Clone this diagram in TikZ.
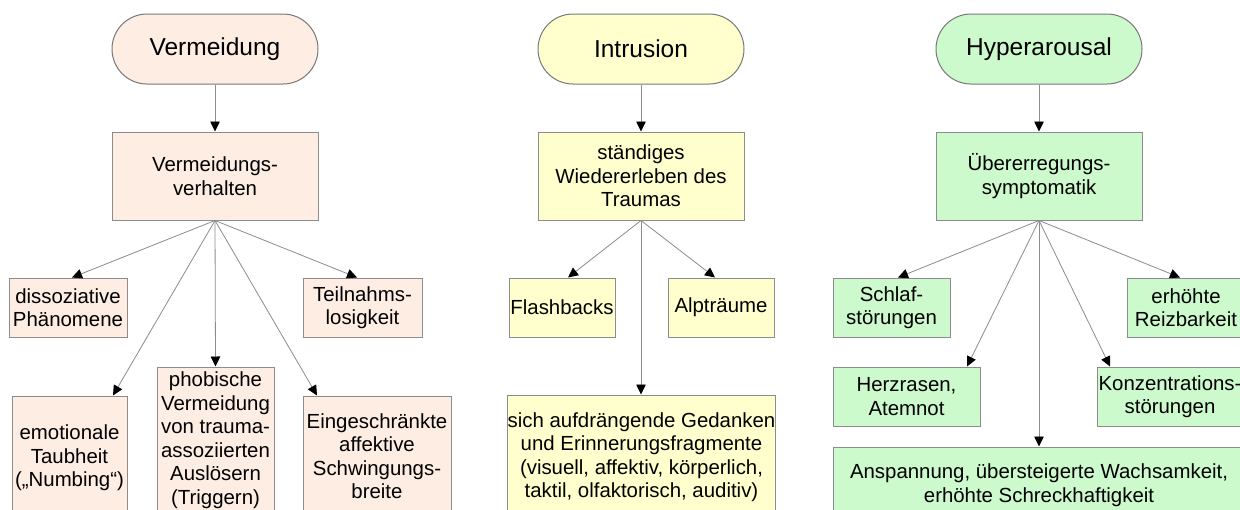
\documentclass[tikz,border=0pt]{standalone}
\usepackage{fontspec}
\setmainfont{Liberation Sans}
\usetikzlibrary{arrows.meta}
\definecolor{peach}{RGB}{253,237,226}
\definecolor{paleyellow}{RGB}{255,255,206}
\definecolor{palegreen}{RGB}{204,250,204}
\definecolor{edgegray}{RGB}{140,140,140}
\definecolor{ovalgray}{RGB}{120,120,120}

\begin{document}
\begin{tikzpicture}[x=1pt,y=-1pt,
  base/.style={draw=edgegray, line width=1pt, align=center, inner sep=0pt,
    font=\fontsize{20.4}{23.5}\selectfont},
  oval/.style={base, draw=ovalgray, rounded corners=35pt, minimum width=206pt,
    minimum height=70pt, font=\fontsize{24.5}{28}\selectfont},
  head/.style={base, minimum width=206pt, minimum height=88pt},
  leaf/.style={base, minimum height=59pt},
  link/.style={draw=edgegray, line width=0.8pt,
    -{Triangle[length=10pt,width=9.5pt,color=black,fill=black]}}
]
\useasboundingbox (0,0) rectangle (1240,509);
\fill[white] (0,0) rectangle (1240,509);

% ---- Vermeidung ----
\node[oval, fill=peach] (verm) at (215,49) {Vermeidung};
\node[head, fill=peach] (vmv) at (215,176) {Vermeidungs-\\verhalten};
\node[leaf, fill=peach, minimum width=118pt] (dis) at (68,307.5) {dissoziative\\Phänomene};
\node[leaf, fill=peach, minimum width=119pt] (teil) at (362.5,307.5) {Teilnahms-\\losigkeit};
\node[base, fill=peach, minimum width=115pt, minimum height=124pt] (emo) at (69.5,458)
  {emotionale\\Taubheit\\(„Numbing“)};
\node[base, fill=peach, minimum width=117pt, minimum height=146pt] (phob) at (215.5,440)
  {phobische\\Vermeidung\\von trauma-\\assoziierten\\Auslösern\\(Triggern)};
\node[base, fill=peach, minimum width=148pt, minimum height=120pt] (ein) at (377,456)
  {Eingeschränkte\\affektive\\Schwingungs-\\breite};

\draw[link] (verm.south) -- (vmv.north);
\draw[link] (vmv.south) -- ([xshift=4pt]dis.north);
\draw[link] (vmv.south) -- ([xshift=43.5pt]emo.north);
\draw[link] (vmv.south) -- (phob.north);
\draw[link] (vmv.south) -- ([xshift=-60pt]ein.north);
\draw[link] (vmv.south) -- ([xshift=-5.5pt]teil.north);

% ---- Intrusion ----
\node[oval, fill=paleyellow] (intr) at (641,49) {Intrusion};
\node[head, fill=paleyellow] (wied) at (641,176) {ständiges\\Wiedererleben des\\Traumas};
\node[leaf, fill=paleyellow, minimum width=106pt] (flash) at (562,307.5) {Flashbacks};
\node[leaf, fill=paleyellow, minimum width=106pt] (alp) at (721,307.5) {Alpträume};
\node[base, fill=paleyellow, minimum width=265pt, minimum height=124pt] (gedk) at (641.5,457)
  {sich aufdrängende Gedanken\\und Erinnerungsfragmente\\(visuell, affektiv, körperlich,\\taktil, olfaktorisch, auditiv)};

\draw[link] (intr.south) -- (wied.north);
\draw[link] (wied.south) -- ([xshift=6pt]flash.north);
\draw[link] (wied.south) -- ([xshift=-6pt]alp.north);
\draw[link] (wied.south) -- ([xshift=-0.5pt]gedk.north);

% ---- Hyperarousal ----
\node[oval, fill=palegreen] (hyp) at (1039,49) {Hyperarousal};
\node[head, fill=palegreen] (uebr) at (1039,176) {Übererregungs-\\symptomatik};
\node[leaf, fill=palegreen, minimum width=117pt] (schl) at (891.5,307.5) {Schlaf-\\störungen};
\node[leaf, fill=palegreen, minimum width=118pt] (reiz) at (1186,307.5) {erhöhte\\Reizbarkeit};
\node[leaf, fill=palegreen, minimum width=147pt] (herz) at (906.5,396.5) {Herzrasen,\\Atemnot};
\node[leaf, fill=palegreen, minimum width=146pt] (konz) at (1170,396.5) {Konzentrations-\\störungen};
\node[base, fill=palegreen, minimum width=412pt, minimum height=76pt] (ansp) at (1039,485)
  {Anspannung, übersteigerte Wachsamkeit,\\erhöhte Schreckhaftigkeit};

\draw[link] (hyp.south) -- (uebr.north);
\draw[link] (uebr.south) -- ([xshift=6.5pt]schl.north);
\draw[link] (uebr.south) -- ([xshift=60.5pt]herz.north);
\draw[link] (uebr.south) -- (ansp.north);
\draw[link] (uebr.south) -- ([xshift=-60pt]konz.north);
\draw[link] (uebr.south) -- ([xshift=-6pt]reiz.north);
\end{tikzpicture}
\end{document}
